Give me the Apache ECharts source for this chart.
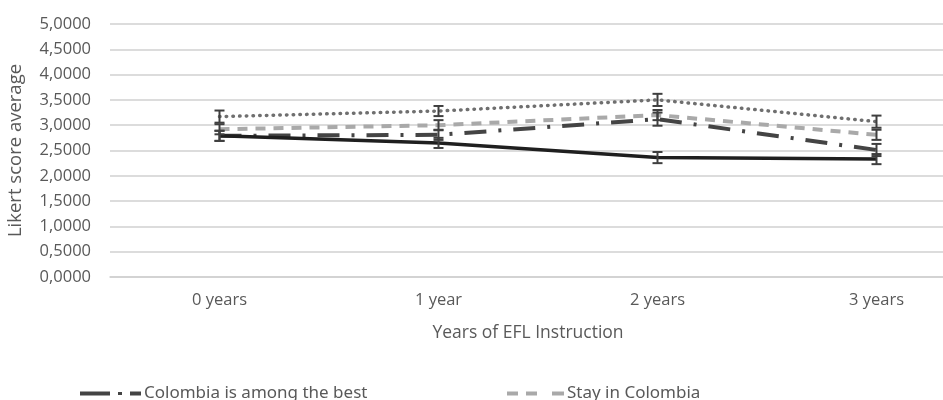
<!DOCTYPE html>
<html>
<head>
<meta charset="utf-8">
<script src="https://cdn.jsdelivr.net/npm/echarts@6/dist/echarts.min.js"></script>
<style>
  html, body { margin: 0; padding: 0; background: #ffffff; }
  #chart { width: 943px; height: 400px; }
</style>
</head>
<body>
<div id="chart"></div>
<script>
// Categories and tick values
const categories = ['0 years', '1 year', '2 years', '3 years'];
const yTicks = [0, 0.5, 1, 1.5, 2, 2.5, 3, 3.5, 4, 4.5, 5];

// Mean Likert scores per group
const bestValues = [2.79, 2.81, 3.12, 2.51];   // Colombia is among the best
const stayValues = [2.92, 3.00, 3.20, 2.81];   // Stay in Colombia
const solidValues = [2.79, 2.65, 2.36, 2.33];
const dottedValues = [3.17, 3.28, 3.50, 3.07];

// Half-widths of the error bars
const bestErr = [0.10, 0.10, 0.13, 0.12];
const stayErr = [0.10, 0.10, 0.10, 0.10];
const solidErr = [0.10, 0.10, 0.11, 0.10];
const dottedErr = [0.12, 0.10, 0.12, 0.12];

const AXIS_FONT = '"Open Sans", "Noto Sans", sans-serif';
const LEGEND_FONT = '"Liberation Sans Narrow", "Noto Sans", sans-serif';
const TEXT_COLOR = '#595959';

// Legend glyphs: dash-dot-dash and three short dashes
const ICON_DASH_DOT = 'path://M0,0h30v4h-30z M38,0.5h4v3h-4z M50,0h11v4h-11z';
const ICON_DASHED = 'path://M0,0h11v4h-11z M19,0h11v4h-11z M45,0h12v4h-12z';

function errorSeries(name, values, errs) {
  return {
    type: 'custom',
    name: name + ' (error)',
    z: 5,
    silent: true,
    data: values.map((v, i) => [i, v - errs[i], v + errs[i]]),
    renderItem: function (params, api) {
      const lo = api.coord([api.value(0), api.value(1)]);
      const hi = api.coord([api.value(0), api.value(2)]);
      const half = 5;
      const style = { stroke: '#3f3f3f', lineWidth: 2 };
      return {
        type: 'group',
        children: [
          { type: 'line', shape: { x1: lo[0], y1: lo[1], x2: hi[0], y2: hi[1] }, style: style },
          { type: 'line', shape: { x1: lo[0] - half, y1: lo[1], x2: lo[0] + half, y2: lo[1] }, style: style },
          { type: 'line', shape: { x1: hi[0] - half, y1: hi[1], x2: hi[0] + half, y2: hi[1] }, style: style }
        ]
      };
    }
  };
}

function lineSeries(name, values, lineStyle, z) {
  return {
    type: 'line',
    name: name,
    data: values,
    symbol: 'none',
    z: z,
    lineStyle: lineStyle,
    itemStyle: { color: lineStyle.color }
  };
}

function legendFor(name, icon, color, left, width) {
  return {
    data: [{
      name: name,
      icon: icon,
      itemStyle: { color: color, borderWidth: 0 },
      lineStyle: { width: 0 }
    }],
    left: left,
    top: 380,
    itemWidth: width,
    itemHeight: 4,
    itemGap: 0,
    selectedMode: false,
    textStyle: { fontFamily: LEGEND_FONT, fontSize: 17, color: TEXT_COLOR, padding: [0, 0, 0, -2] }
  };
}

const chart = echarts.init(document.getElementById('chart'), null, { renderer: 'canvas' });

chart.setOption({
  backgroundColor: '#ffffff',
  animation: false,
  grid: {
    left: 110,
    top: 24,
    width: 876,
    height: 253,
    containLabel: false,
    outerBoundsMode: 'none'
  },
  legend: [
    legendFor('Colombia is among the best', ICON_DASH_DOT, '#444444', 75, 61),
    legendFor('Stay in Colombia', ICON_DASHED, '#a9a9a9', 502, 57)
  ],
  xAxis: {
    type: 'category',
    data: categories,
    boundaryGap: true,
    axisLine: { show: true, lineStyle: { color: '#d0d0d0', width: 1.5 } },
    axisTick: { show: false },
    axisLabel: { fontFamily: AXIS_FONT, fontSize: 16.5, color: TEXT_COLOR, margin: 15 },
    name: 'Years of EFL Instruction',
    nameLocation: 'middle',
    nameGap: 47,
    nameTextStyle: { fontFamily: AXIS_FONT, fontSize: 17.5, color: TEXT_COLOR, padding: [0, 40, 0, 0] }
  },
  yAxis: {
    type: 'value',
    min: yTicks[0],
    max: yTicks[yTicks.length - 1],
    interval: yTicks[1] - yTicks[0],
    axisLine: { show: false },
    axisTick: { show: false },
    splitLine: { lineStyle: { color: '#d0d0d0', width: 1.5 } },
    axisLabel: {
      fontFamily: AXIS_FONT, fontSize: 16.5, color: TEXT_COLOR, margin: 19,
      formatter: v => v.toFixed(4).replace('.', ',')
    },
    name: 'Likert score average',
    nameLocation: 'middle',
    nameGap: 85,
    nameTextStyle: { fontFamily: AXIS_FONT, fontSize: 18.5, color: TEXT_COLOR }
  },
  series: [
    lineSeries('Stay in Colombia', stayValues,
      { color: '#a9a9a9', width: 4, type: [10, 8] }, 2),
    lineSeries('Group C', dottedValues,
      { color: '#6f6f6f', width: 3.5, type: [0.5, 6.2], cap: 'round' }, 2),
    lineSeries('Colombia is among the best', bestValues,
      { color: '#444444', width: 4, type: [22, 12, 3, 12] }, 3),
    lineSeries('Group D', solidValues,
      { color: '#1f1f1f', width: 3.5, type: 'solid' }, 3),
    errorSeries('Stay in Colombia', stayValues, stayErr),
    errorSeries('Group C', dottedValues, dottedErr),
    errorSeries('Colombia is among the best', bestValues, bestErr),
    errorSeries('Group D', solidValues, solidErr)
  ]
});
</script>
</body>
</html>
